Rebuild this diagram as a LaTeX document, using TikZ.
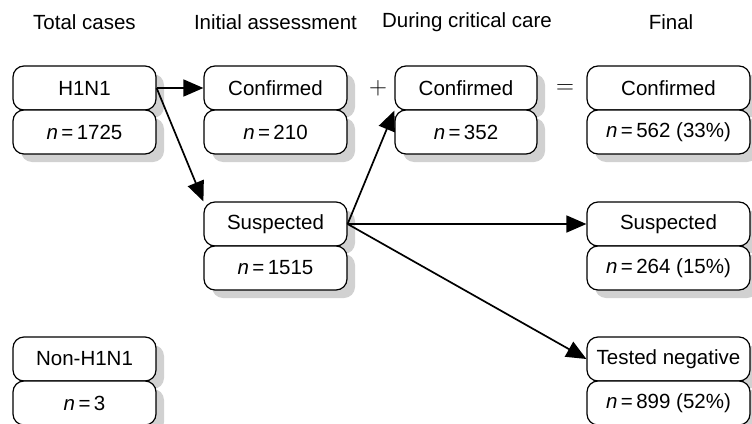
\documentclass[tikz,border=0pt]{standalone}
\usepackage{fontspec}
\setmainfont{Liberation Sans}
\usetikzlibrary{arrows.meta,shadows}
\tikzset{
  bx/.style={draw, rounded corners=11pt, fill=white, line width=1.2pt,
    minimum height=44pt, inner sep=0pt,
    font=\fontsize{20.5}{24}\selectfont,
    drop shadow={shadow xshift=8pt, shadow yshift=-8pt, fill=black!18, opacity=1}},
  hdr/.style={font=\fontsize{20.5}{24}\selectfont, inner sep=0pt},
  sym/.style={font=\fontsize{32}{32}\selectfont, inner sep=0pt},
  arr/.style={line width=1.7pt, -{Triangle[length=20pt,width=17pt]}},
}
\newcommand{\nval}[1]{\textit{n}\,=\,#1}
\begin{document}
\begin{tikzpicture}[x=1pt,y=-1pt]
\useasboundingbox (0,0) rectangle (752,423);
% headers
\node[hdr] (h1) at (84.5,22) {Total cases};
\node[hdr] (h2) at (275.5,22) {Initial assessment};
\node[hdr] (h3) at (467,22) {During critical care};
\node[hdr] (h4) at (671,22) {Final};
% column 1
\node[bx, minimum width=143pt] (h1n1) at (84.5,88) {H1N1};
\node[bx, minimum width=143pt] (h1n1n) at (84.5,132) {\nval{1725}};
\node[bx, minimum width=143pt] (non) at (84.5,359) {Non-H1N1};
\node[bx, minimum width=143pt] (nonn) at (84.5,403) {\nval{3}};
% column 2
\node[bx, minimum width=143pt] (conf) at (275.5,88) {Confirmed};
\node[bx, minimum width=143pt] (confn) at (275.5,132) {\nval{210}};
\node[bx, minimum width=143pt] (susp) at (275.5,224) {Suspected};
\node[bx, minimum width=143pt] (suspn) at (275.5,268) {\nval{1515}};
% column 3
\node[bx, minimum width=142pt] (dconf) at (466,88) {Confirmed};
\node[bx, minimum width=142pt] (dconfn) at (466,132) {\nval{352}};
% column 4
\node[bx, minimum width=163pt] (fconf) at (668.5,88) {Confirmed};
\node[bx, minimum width=163pt] (fconfn) at (668.5,132) {\nval{562} (33\%)};
\node[bx, minimum width=163pt] (fsusp) at (668.5,224) {Suspected};
\node[bx, minimum width=163pt] (fsuspn) at (668.5,268) {\nval{264} (15\%)};
\node[bx, minimum width=163pt] (fneg) at (668.5,359) {Tested negative};
\node[bx, minimum width=163pt] (fnegn) at (668.5,403) {\nval{899} (52\%)};
% symbols
\node[sym] (plus) at (378,88) {$+$};
\node[sym] (eq) at (565,89) {$=$};
% arrows
\draw[arr] (h1n1.east) -- (conf.west);
\draw[arr] (h1n1.east) -- (susp.north west);
\draw[arr] (susp.east) -- (dconf.south west);
\draw[arr] (susp.east) -- (fsusp.west);
\draw[arr] (susp.east) -- (fneg.west);
\end{tikzpicture}
\end{document}
